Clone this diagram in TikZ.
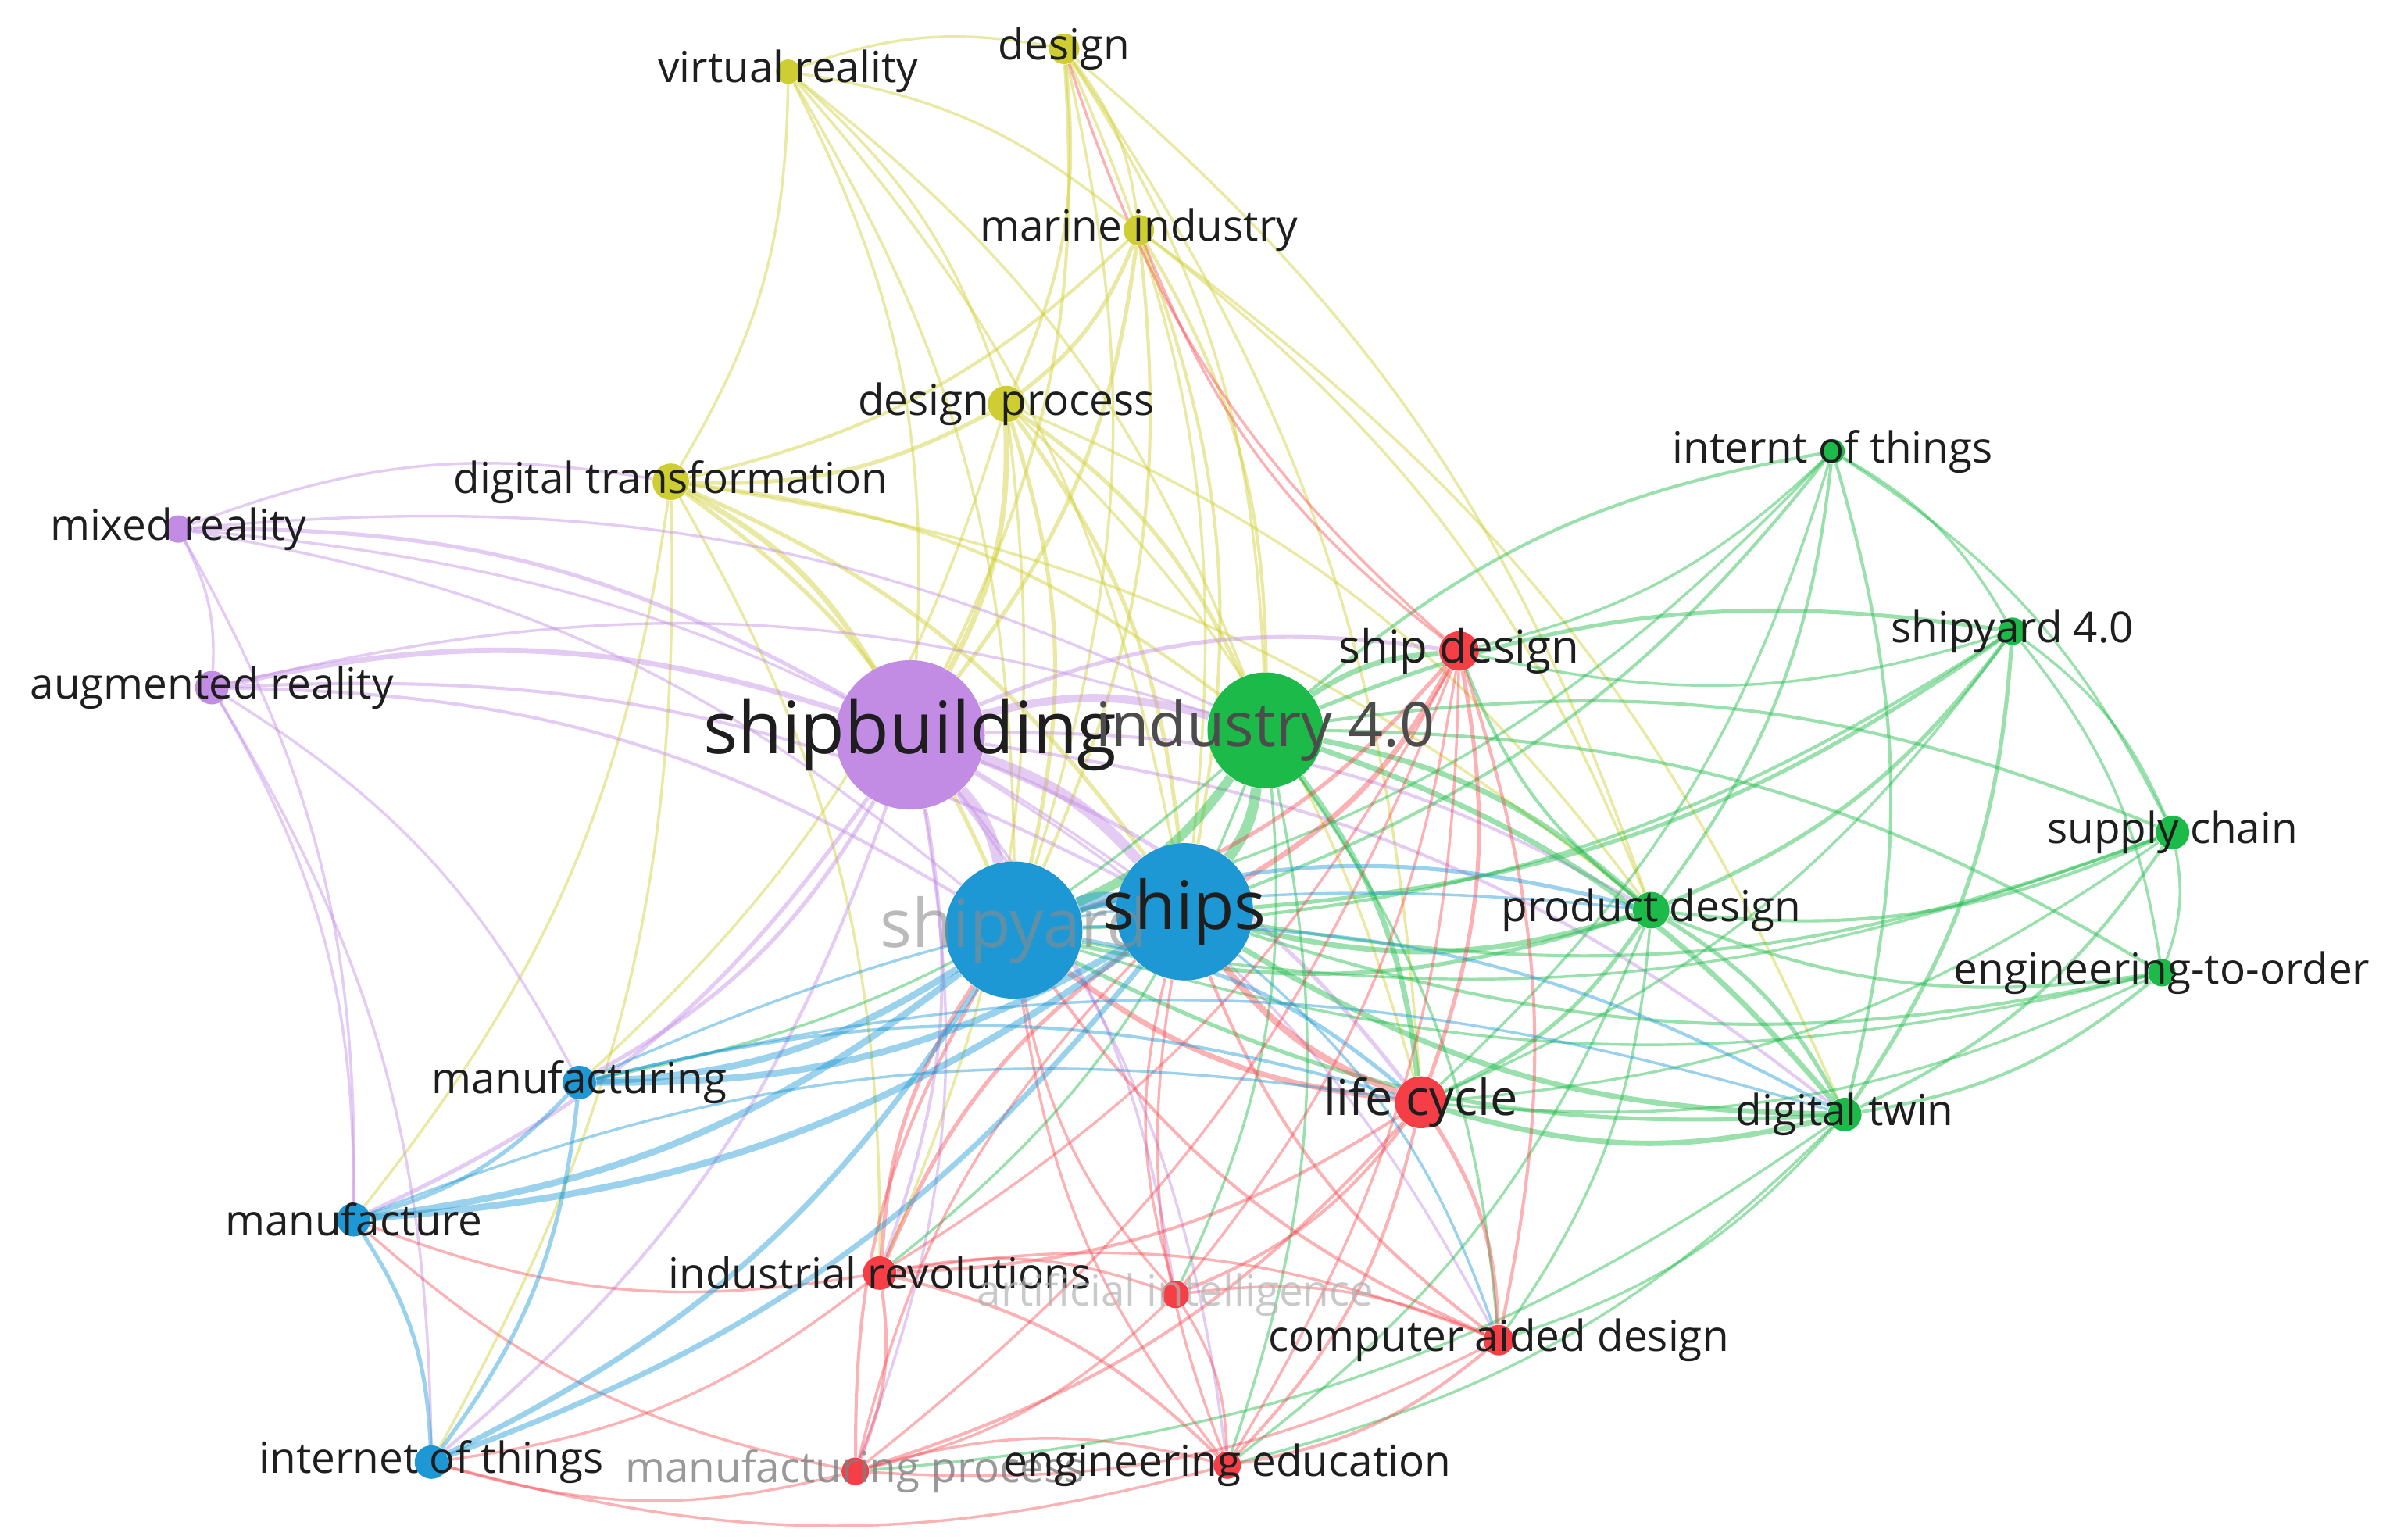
\documentclass[tikz,border=0pt]{standalone}
\usepackage{fontspec}
\setmainfont{Open Sans}
\usetikzlibrary{backgrounds}
\definecolor{cy}{RGB}{206,206,50}
\definecolor{cp}{RGB}{194,140,228}
\definecolor{cg}{RGB}{28,186,72}
\definecolor{cr}{RGB}{245,62,70}
\definecolor{cb}{RGB}{30,152,212}
\definecolor{txt}{RGB}{30,30,30}
\tikzset{
  vnode/.style={circle, inner sep=0pt, draw=none},
  lab/.style={font=\fontsize{16}{18}\selectfont, text=txt, inner sep=0pt},
  biglab/.style={font=\fontsize{26}{28}\selectfont, text=txt, inner sep=0pt},
}
\newcommand\vn[5]{\node[vnode, fill=#5, minimum size={#4*0.04cm}] (#1) at ({#2*0.02},{-#3*0.02}) {};}
\begin{document}
\begin{tikzpicture}
\useasboundingbox (0,0) rectangle (31.36,-20.2);
% nodes
\vn{vr}{517}{47}{8}{cy}
\vn{des}{698}{32}{10}{cy}
\vn{mi}{747}{151}{10}{cy}
\vn{dp}{660}{265}{12}{cy}
\vn{dt}{440}{316}{12}{cy}
\vn{mr}{117}{347}{9}{cp}
\vn{ar}{139}{451}{11}{cp}
\vn{sb}{597}{482}{49}{cp}
\vn{i40}{830}{479}{38}{cg}
\vn{iot2}{1202}{296}{8}{cg}
\vn{sy40}{1320}{414}{9}{cg}
\vn{sc}{1425}{546}{11}{cg}
\vn{eto}{1418}{638}{9}{cg}
\vn{pd}{1083}{597}{12}{cg}
\vn{dtw}{1210}{731}{11}{cg}
\vn{sd}{957}{427}{13}{cr}
\vn{lc}{932}{723}{17}{cr}
\vn{ir}{577}{835}{11}{cr}
\vn{ai}{771}{849}{9}{cr}
\vn{cad}{983}{879}{10}{cr}
\vn{mp}{561}{965}{9}{cr}
\vn{ee}{805}{961}{9}{cr}
\vn{syd}{665}{610}{45}{cb}
\vn{ships}{777}{598}{45}{cb}
\vn{mfg}{380}{710}{11}{cb}
\vn{mfc}{232}{800}{11}{cb}
\vn{iot}{283}{959}{11}{cb}
% labels
\node[lab] (l-vr) at (vr) {virtual reality};
\node[lab] (l-des) at (des) {design};
\node[lab] (l-mi) at (mi) {marine industry};
\node[lab] (l-dp) at (dp) {design process};
\node[lab] (l-dt) at (dt) {digital transformation};
\node[lab] (l-mr) at (mr) {mixed reality};
\node[lab] (l-ar) at (ar) {augmented reality};
\node[lab, text=black!45, text opacity=.6, font=\fontsize{25}{27}\selectfont] (l-syd) at (syd) {shipyard};
\node[biglab, font=\fontsize{27}{29}\selectfont] (l-sb) at (sb) {shipbuilding};
\node[lab, text=black!70, font=\fontsize{23}{25}\selectfont] (l-i40) at (i40) {industry 4.0};
\node[lab] (l-iot2) at (iot2) {internt of things};
\node[lab] (l-sy40) at (sy40) {shipyard 4.0};
\node[lab] (l-sc) at (sc) {supply chain};
\node[lab] (l-eto) at (eto) {engineering-to-order};
\node[lab] (l-pd) at (pd) {product design};
\node[lab] (l-dtw) at (dtw) {digital twin};
\node[lab, font=\fontsize{17}{19}\selectfont] (l-sd) at (sd) {ship design};
\node[lab, font=\fontsize{18.4}{20}\selectfont] (l-lc) at (lc) {life cycle};
\node[lab] (l-ir) at (ir) {industrial revolutions};
\node[lab, text=black!30, text opacity=.7] (l-ai) at (ai) {artificial intelligence};
\node[lab] (l-cad) at (cad) {computer aided design};
\node[lab, text=black!50, text opacity=.8] (l-mp) at (mp) {manufacturing process};
\node[lab] (l-ee) at (ee) {engineering education};
\node[biglab, font=\fontsize{25}{27}\selectfont] (l-ships) at (ships) {ships};
\node[lab] (l-mfg) at (mfg) {manufacturing};
\node[lab] (l-mfc) at (mfc) {manufacture};
\node[lab] (l-iot) at (iot) {internet of things};
% edges
\begin{pgfonlayer}{background}
\foreach \a/\b/\w in {vr/des/1, vr/mi/1, vr/dp/1, vr/sb/1, vr/ships/1, vr/syd/1, vr/i40/1, vr/dt/1,
 des/mi/1, des/dp/1.2, des/sb/1.2, des/ships/1, des/syd/1, des/i40/1, des/pd/1, des/lc/1,
 mi/dp/1.5, mi/sb/1.5, mi/ships/1.2, mi/syd/1.2, mi/i40/1.2, mi/pd/1, mi/dtw/1, mi/dt/1.2,
 dp/dt/1.5, dp/sb/2, dp/ships/1.5, dp/syd/1.5, dp/i40/1.5, dp/pd/1, dp/lc/1, dp/ir/1, dp/mfg/1,
 dt/sb/2, dt/ships/1.5, dt/syd/1.5, dt/i40/1.2, dt/ir/1, dt/mfc/1, dt/iot/1, dt/pd/1}
 \draw[cy, line width=\w pt, draw opacity=.45] (\a) to[bend left=15] (\b);
\foreach \a/\b/\w in {mr/ar/1, mr/sb/1.5, mr/ships/1, mr/syd/1, mr/dt/1, mr/i40/1, mr/mfc/1,
 ar/sb/2, ar/ships/1.2, ar/syd/1.2, ar/i40/1, ar/mfg/1, ar/mfc/1, ar/iot/1,
 sb/ships/4, sb/syd/4, sb/i40/3, sb/ir/1.2, sb/mp/1, sb/ee/1, sb/lc/1.5, sb/mfg/1.5, sb/mfc/1.5,
 sb/iot/1.2, sb/sd/1.5, sb/pd/1.2, sb/dtw/1.2, sb/ai/1, sb/cad/1}
 \draw[cp, line width=\w pt, draw opacity=.45] (\a) to[bend left=15] (\b);
\foreach \a/\b/\w in {i40/ships/4, i40/syd/3.5, i40/sd/2, i40/pd/2, i40/dtw/2, i40/lc/2, i40/iot2/1.2,
 i40/sy40/1.5, i40/sc/1.2, i40/eto/1.2, i40/ir/1, i40/ee/1, i40/cad/1, i40/mfg/1, i40/ai/1,
 iot2/pd/1.2, iot2/dtw/1.2, iot2/sy40/1, iot2/sc/1, iot2/ships/1.2, iot2/syd/1, iot2/sd/1, iot2/lc/1,
 sy40/sc/1, sy40/eto/1, sy40/dtw/1.5, sy40/pd/1.5, sy40/ships/1.5, sy40/syd/1.2, sy40/sd/1, sy40/lc/1,
 sc/eto/1, sc/dtw/1.2, sc/pd/1.2, sc/ships/1.2, sc/syd/1, sc/lc/1,
 eto/dtw/1.2, eto/pd/1.2, eto/ships/1.2, eto/syd/1, eto/lc/1,
 pd/dtw/1.5, pd/ships/2, pd/syd/1.5, pd/lc/1.5, pd/sd/1.2, pd/cad/1, pd/ee/1,
 dtw/ships/2, dtw/syd/1.5, dtw/lc/2, dtw/cad/1, dtw/ee/1, dtw/mp/1}
 \draw[cg, line width=\w pt, draw opacity=.45] (\a) to[bend left=15] (\b);
\foreach \a/\b/\w in {sd/ships/2, sd/syd/1.5, sd/lc/1.5, sd/cad/1.2, sd/ee/1, sd/ai/1, sd/ir/1, sd/mp/1, sd/mi/1, sd/des/1,
 lc/ships/2.5, lc/syd/2, lc/ir/1.2, lc/ai/1.2, lc/cad/1.5, lc/ee/1.2, lc/mp/1.2,
 ir/ships/1.5, ir/syd/1.5, ir/ai/1, ir/cad/1, ir/ee/1.2, ir/mp/1.2, ir/mfc/1, ir/iot/1,
 ai/ships/1, ai/syd/1, ai/cad/1, ai/ee/1, ai/mp/1,
 cad/ships/1.2, cad/syd/1.2, cad/ee/1.2, cad/mp/1,
 mp/ships/1, mp/syd/1.2, mp/ee/1, mp/iot/1, mp/mfc/1,
 ee/ships/1, ee/syd/1, ee/iot/1}
 \draw[cr, line width=\w pt, draw opacity=.4] (\a) to[bend left=15] (\b);
\foreach \a/\b/\w in {syd/ships/6, syd/mfg/2.5, syd/mfc/2.5, syd/iot/2, syd/pd/1.5, syd/dtw/1.2, syd/lc/1.5,
 ships/mfg/2.5, ships/mfc/2.5, ships/iot/2, ships/cad/1,
 mfg/mfc/1.5, mfg/iot/1.5, mfg/lc/1.2, mfg/pd/1, mfg/dtw/1,
 mfc/iot/1.5, mfc/lc/1}
 \draw[cb, line width=\w pt, draw opacity=.45] (\a) to[bend left=15] (\b);
\end{pgfonlayer}
\end{tikzpicture}
\end{document}
